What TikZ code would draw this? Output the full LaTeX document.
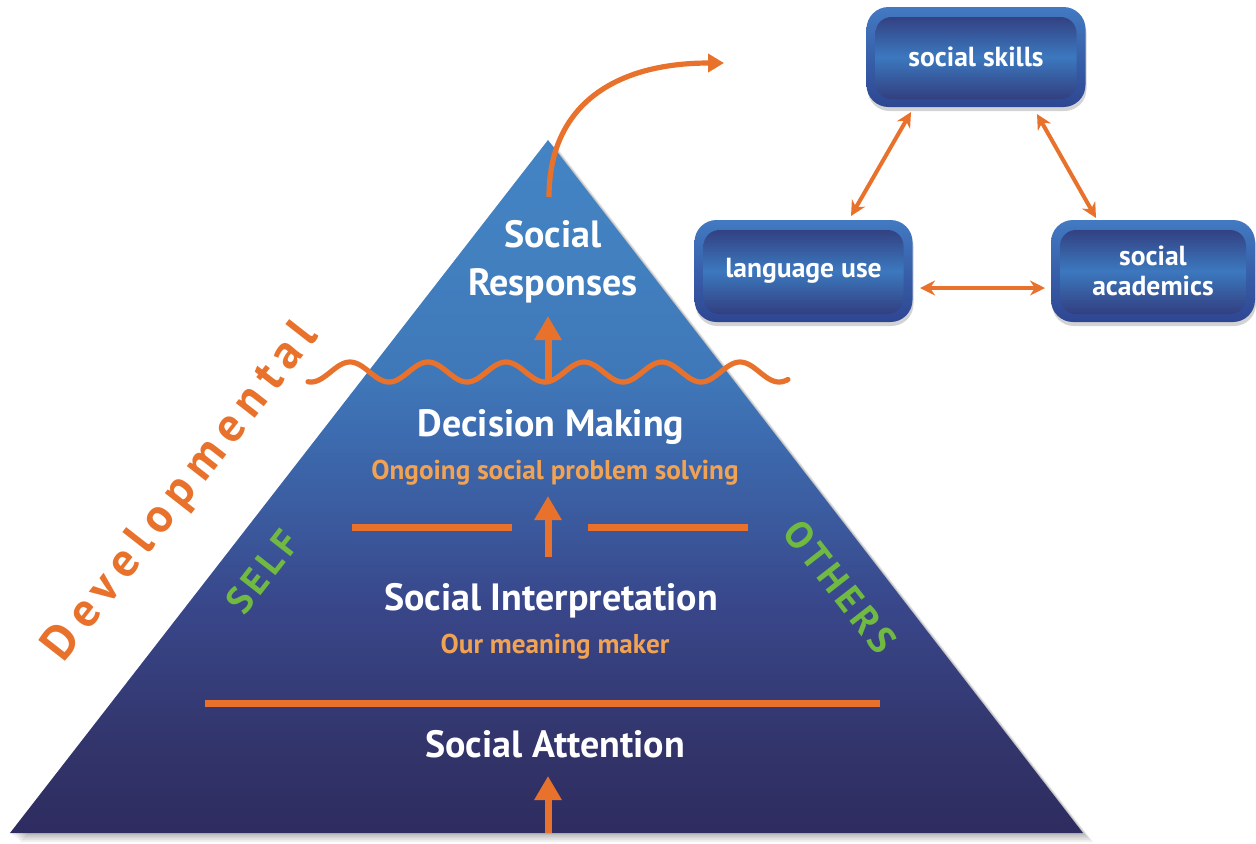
\documentclass[tikz,border=0pt]{standalone}
\usepackage{fontspec}
\setmainfont{PT Sans}
\usetikzlibrary{arrows.meta,shadows}

\definecolor{orng}{RGB}{232,114,44}
\definecolor{lorng}{RGB}{241,163,83}
\definecolor{grn}{RGB}{112,186,66}
\definecolor{rimtop}{RGB}{66,122,194}
\definecolor{rimbot}{RGB}{46,70,146}
\definecolor{boxdark}{RGB}{48,52,116}
\definecolor{boxlight}{RGB}{60,120,190}

% pyramid colour ramp, bottom (25bp) to apex (75bp)
\pgfdeclareverticalshading{pyramidramp}{100bp}{%
  color(0bp)=(rgb,255:red,46;green,44;blue,96);
  color(25bp)=(rgb,255:red,46;green,44;blue,96);
  color(31bp)=(rgb,255:red,50;green,52;blue,106);
  color(42bp)=(rgb,255:red,57;green,72;blue,140);
  color(47bp)=(rgb,255:red,59;green,88;blue,156);
  color(54bp)=(rgb,255:red,61;green,108;blue,176);
  color(58bp)=(rgb,255:red,63;green,120;blue,185);
  color(67bp)=(rgb,255:red,66;green,128;blue,192);
  color(75bp)=(rgb,255:red,68;green,132;blue,196);
  color(100bp)=(rgb,255:red,68;green,132;blue,196)}

\begin{document}
\begin{tikzpicture}[x=0.5pt,y=-0.5pt,
  title/.style={text=white,font=\bfseries\fontsize{19}{22}\selectfont,align=center},
  subtitle/.style={text=lorng,font=\bfseries\fontsize{13.6}{16}\selectfont},
  rule/.style={draw=orng,line width=3.5pt},
  uparrow/.style={draw=orng,line width=3.5pt,-{Triangle[width=13pt,length=12pt]}},
  twoway/.style={draw=orng,line width=2pt,{Stealth[length=7.5pt,width=7.5pt]}-{Stealth[length=7.5pt,width=7.5pt]}},
  side/.style={text=grn,font=\bfseries\fontsize{19}{22}\selectfont\addfontfeature{LetterSpace=12}},
  skillbox/.style={rounded corners=11pt,text=white,align=center,
    font=\bfseries\fontsize{13.8}{16}\selectfont,
    top color=rimtop,bottom color=rimbot,
    drop shadow={opacity=0.35,shadow xshift=0.5pt,shadow yshift=-2pt},
    path picture={\shade[rounded corners=8pt,top color=boxdark,bottom color=boxdark,middle color=boxlight]
      ([shift={(4.5pt,-5pt)}]path picture bounding box.north west) rectangle
      ([shift={(-4.5pt,4pt)}]path picture bounding box.south east);}},
]
\useasboundingbox (0,0) rectangle (1256,843);

% pyramid corners
\coordinate (apex) at (548,140);
\coordinate (bl) at (10,833);
\coordinate (br) at (1083,833);

% soft shadow along the right side and the base
\foreach \s in {2,4,6,8,10}
  \fill[black,opacity=0.06] ([shift={(\s*0.5pt,-\s*0.45pt)}]apex) -- ([shift={(\s*0.5pt,-\s*0.45pt)}]bl) -- ([shift={(\s*0.5pt,-\s*0.45pt)}]br) -- cycle;

% pyramid body
\shade[shading=pyramidramp] (apex) -- (bl) -- (br) -- cycle;

% level dividers
\coordinate (r1a) at (205,703);  \coordinate (r1b) at (880,703);
\coordinate (r2a) at (352,527);  \coordinate (r2b) at (512,527);
\coordinate (r3a) at (588,527);  \coordinate (r3b) at (748,527);
\draw[rule] (r1a) -- (r1b);
\draw[rule] (r2a) -- (r2b);
\draw[rule] (r3a) -- (r3b);

% wavy divider below the top level
\draw[orng,line width=2.6pt,line cap=round]
  plot[domain=308:788,samples=240] (\x,{372+10*cos(4.6154*(\x-545))});

% upward arrows between levels
\coordinate (u1a) at (548,833); \coordinate (u1b) at (548,776);
\coordinate (u2a) at (548,557); \coordinate (u2b) at (548,496);
\coordinate (u3a) at (548,380); \coordinate (u3b) at (548,316);
\draw[uparrow] (u1a) -- (u1b);
\draw[uparrow] (u2a) -- (u2b);
\draw[uparrow] (u3a) -- (u3b);

% level labels
\node[title] (resp) at (553,262) {Social\\[2pt]Responses};
\node[title] (dec) at (551,427) {Decision Making};
\node[subtitle] (decsub) at (555,473) {Ongoing social problem solving};
\node[title] (interp) at (551,601) {Social Interpretation};
\node[subtitle] (interpsub) at (555,647) {Our meaning maker};
\node[title] (att) at (555,744) {Social Attention};

% side labels
\node[side,rotate=52] (self) at (262,572) {SELF};
\node[side,rotate=-52] (others) at (840,587) {OTHERS};
\node[rotate=52,text=orng,font=\bfseries\fontsize{24}{28}\selectfont\addfontfeature{LetterSpace=18}] (dev) at (182,492) {Developmental};

% outcome boxes
\node[skillbox,minimum width=109.5pt,minimum height=50pt] (skills) at (976,57) {social skills};
\node[skillbox,minimum width=109pt,minimum height=51pt] (lang) at (803.5,271) {language use};
\node[skillbox,minimum width=102pt,minimum height=51pt] (acad) at (1153,271) {social\\[-1pt]academics};

% curved arrow from the apex out to the boxes
\coordinate (c0) at (549,197);
\coordinate (c1) at (724,63);
\draw[orng,line width=2.6pt,-{Triangle[width=9pt,length=8pt]}]
  (c0) .. controls (549,105) and (615,63) .. (c1);

% links among the outcomes
\coordinate (l1) at (851,216);  \coordinate (s1) at (911,112);
\coordinate (s2) at (1037,114); \coordinate (a1) at (1096,218);
\coordinate (l2) at (920,288);  \coordinate (a2) at (1045,288);
\draw[twoway] (l1) -- (s1);
\draw[twoway] (s2) -- (a1);
\draw[twoway] (l2) -- (a2);
\end{tikzpicture}
\end{document}
